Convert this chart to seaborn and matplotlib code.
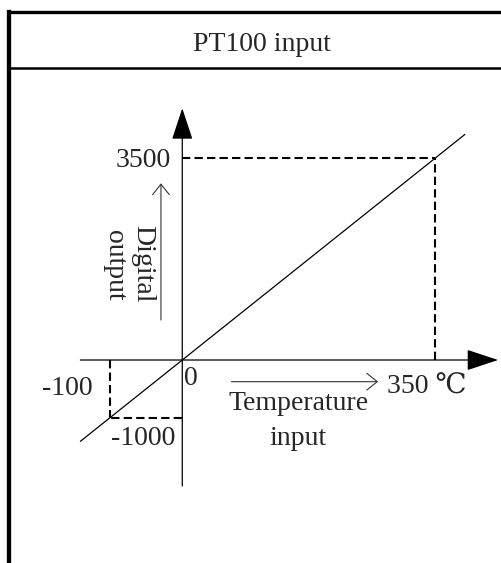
import matplotlib

matplotlib.use("Agg")
import matplotlib.pyplot as plt
import pandas as pd
import seaborn as sns
from matplotlib.lines import Line2D

# Values
title = "PT100 input"
key_temp = [-100, 350]  # temperature input (°C)
key_digital = [-1000, 3500]  # digital output
line_temp = [-141, 391]  # ends of the transfer line
line_digital = [-1410, 3910]
x_label = ["Temperature", "input"]
y_label = ["Digital", "output"]
unit = "℃"

# Axis extents of the diagram (data units)
x_axis = (-141, 437)
y_axis = (-2184, 4364)

sns.set_style("white")
plt.rcParams["font.family"] = ["Liberation Serif", "DejaVu Serif", "DejaVu Sans"]
FS = 20

fig = plt.figure(figsize=(5.02, 5.63), dpi=100)
ax = fig.add_axes([0, 0, 1, 1])
ax.set_xlim(-252.2, 442.4)
ax.set_ylim(-3519, 6241)
ax.set_axis_off()

# Outer frame and title row
fig.add_artist(Line2D([0.0189, 0.0189], [0, 0.9782], color="black", lw=3.1,
                      transform=fig.transFigure, solid_capstyle="projecting"))
fig.add_artist(Line2D([0.0189, 1.0], [0.9782, 0.9782], color="black", lw=2.4,
                      transform=fig.transFigure, solid_capstyle="projecting"))
fig.add_artist(Line2D([0.0189, 1.0], [0.8798, 0.8798], color="black", lw=1.8,
                      transform=fig.transFigure))
fig.text(0.5213, 0.91, title, ha="center", va="baseline", fontsize=FS)

# Axes with filled arrow heads
head = "-|>,head_length=20,head_width=6.6"
ax.annotate("", xy=(x_axis[1], 0), xytext=(x_axis[0], 0),
            arrowprops=dict(arrowstyle=head, mutation_scale=1, color="black",
                            lw=0.9, shrinkA=0, shrinkB=0))
ax.annotate("", xy=(0, y_axis[1]), xytext=(0, y_axis[0]),
            arrowprops=dict(arrowstyle=head, mutation_scale=1, color="black",
                            lw=0.9, shrinkA=0, shrinkB=0))

# Transfer line
df = pd.DataFrame({"temp": line_temp, "digital": line_digital})
sns.lineplot(data=df, x="temp", y="digital", color="black", lw=0.9, ax=ax)

# Dashed guides to the key points
dash = dict(color="black", lw=1.5, linestyle=(0, (4, 2)))
for t, d in zip(key_temp, key_digital):
    ax.plot([0, t], [d, d], **dash)
    ax.plot([t, t], [0, d], **dash)

# Value labels
ax.annotate(str(key_digital[1]), xy=(0, key_digital[1]), xytext=(-8.4, -6.5),
            textcoords="offset points", ha="right", va="baseline", fontsize=FS)
ax.annotate(str(key_temp[0]), xy=(key_temp[0], 0), xytext=(-12.5, -25.2),
            textcoords="offset points", ha="right", va="baseline", fontsize=FS)
ax.annotate("0", xy=(0, 0), xytext=(1.1, -18),
            textcoords="offset points", ha="left", va="baseline", fontsize=FS)
ax.annotate(str(key_digital[0]), xy=(0, key_digital[0]), xytext=(-4.8, -19.7),
            textcoords="offset points", ha="right", va="baseline", fontsize=FS)
ax.annotate(f"{key_temp[1]} {unit}", xy=(key_temp[1], 0), xytext=(-35, -24.5),
            textcoords="offset points", ha="left", va="baseline", fontsize=FS)

# Axis captions
ax.annotate(x_label[0], xy=(0, 0), xytext=(84, -36), textcoords="offset points",
            ha="center", va="baseline", fontsize=FS)
ax.annotate(x_label[1], xy=(0, 0), xytext=(83, -61.2), textcoords="offset points",
            ha="center", va="baseline", fontsize=FS)
ax.annotate(y_label[0], xy=(0, 0), xytext=(-33, 69.1), textcoords="offset points",
            ha="center", va="baseline", fontsize=FS, rotation=270,
            rotation_mode="anchor")
ax.annotate(y_label[1], xy=(0, 0), xytext=(-53.6, 68.4), textcoords="offset points",
            ha="center", va="baseline", fontsize=FS, rotation=270,
            rotation_mode="anchor")

# Thin direction arrows next to the captions
thin = dict(arrowstyle="->,head_length=7.5,head_width=6", mutation_scale=1,
            color="#333333", lw=0.8, shrinkA=0, shrinkB=0)
ax.annotate("", xy=(271, -376), xytext=(68, -376), arrowprops=thin)
ax.annotate("", xy=(-29.5, 3063), xytext=(-29.5, 693), arrowprops=thin)

fig.savefig("out.png", dpi=100)
